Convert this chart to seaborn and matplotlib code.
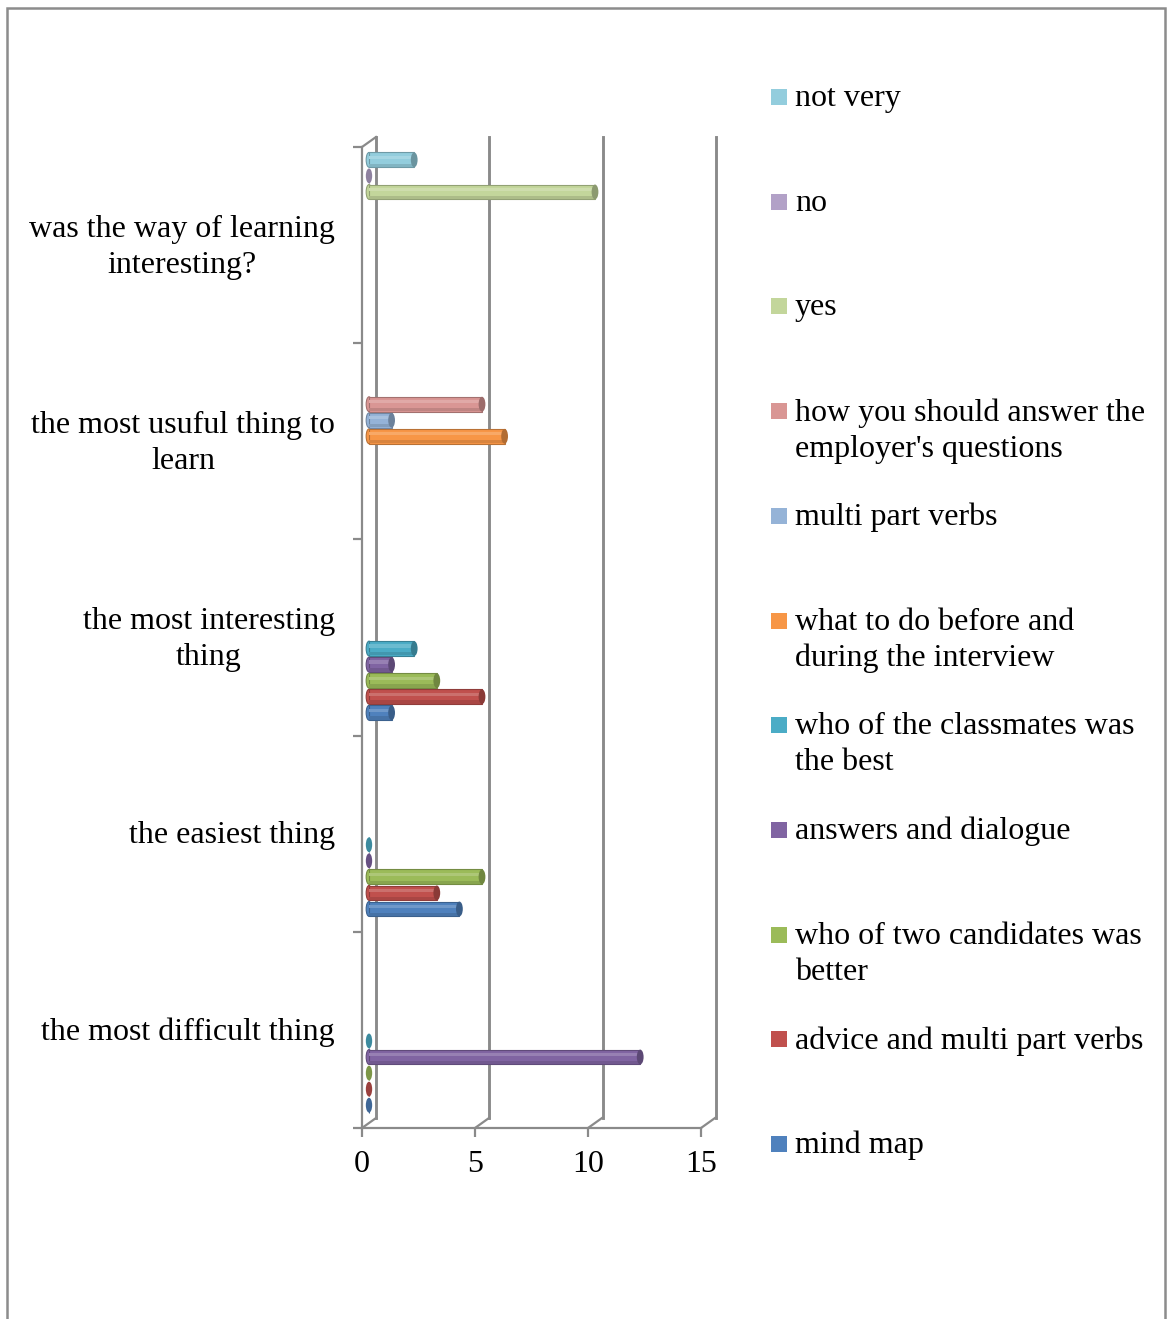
import numpy as np
import pandas as pd
import matplotlib
matplotlib.use("Agg")
import matplotlib.pyplot as plt
import seaborn as sns
from matplotlib.patches import Ellipse, Rectangle
from matplotlib.lines import Line2D
import matplotlib.transforms as mtransforms
import matplotlib.colors as mcolors

# ---------------- data ----------------
categories = [
    "was the way of learning\ninteresting?",
    "the most usuful thing to\nlearn",
    "the most interesting\nthing",
    "the easiest thing",
    "the most difficult thing",
]
series = [
    "mind map",
    "advice and multi part verbs",
    "who of two candidates was\nbetter",
    "answers and dialogue",
    "who of the classmates was\nthe best",
    "what to do before and\nduring the interview",
    "multi part verbs",
    "how you should answer the\nemployer's questions",
    "yes",
    "no",
    "not very",
]
colors = ["#4F81BD", "#C0504D", "#9BBB59", "#8064A2", "#4BACC6", "#F79646",
          "#95B3D7", "#D99694", "#C3D69B", "#B2A1C7", "#93CDDD"]

# values per series, in category order (None = no bar)
values = {
    "mind map":                          [None, None, 1, 4, 0],
    "advice and multi part verbs":       [None, None, 5, 3, 0],
    "who of two candidates was\nbetter": [None, None, 3, 5, 0],
    "answers and dialogue":              [None, None, 1, 0, 12],
    "who of the classmates was\nthe best": [None, None, 2, 0, 0],
    "what to do before and\nduring the interview": [None, 6, None, None, None],
    "multi part verbs":                  [None, 1, None, None, None],
    "how you should answer the\nemployer's questions": [None, 5, None, None, None],
    "yes":                               [10, None, None, None, None],
    "no":                                [0, None, None, None, None],
    "not very":                          [2, None, None, None, None],
}
x_ticks = [0, 5, 10, 15]

rows = []
for s in series:
    for c, v in zip(categories, values[s]):
        if v is not None:
            rows.append({"category": c, "series": s, "value": v})
df = pd.DataFrame(rows)

# ---------------- figure ----------------
W, H = 1174, 1319
fig = plt.figure(figsize=(W / 100, H / 100), dpi=100)
fig.patch.set_facecolor("white")

def fx(px):
    return px / W

def fy(py):
    return 1 - py / H

FONT = "Liberation Serif"
FS = 23
LSP = 1.32
GRAY = "#8a8a8a"
LW = 1.6

def box(l, t, r, b):
    return [fx(l), fy(b), (r - l) / W, (b - t) / H]

# back wall (gridlines)
ax_back = fig.add_axes(box(376, 137, 716, 1118))
ax_back.set_xlim(0, 15)
ax_back.set_ylim(0, 1)
for v in x_ticks:
    ax_back.axvline(v, color=GRAY, lw=LW * 1.3, clip_on=False)
ax_back.axis("off")

# front axis (ticks and frame)
ax_front = fig.add_axes(box(362, 147, 701, 1128))
ax_front.set_facecolor("none")
ax_front.set_xlim(0, 15)
ax_front.set_ylim(len(categories) - 0.5, -0.5)
for sp in ["top", "right"]:
    ax_front.spines[sp].set_visible(False)
for sp in ["left", "bottom"]:
    ax_front.spines[sp].set_color(GRAY)
    ax_front.spines[sp].set_linewidth(LW)
ax_front.set_xticks(x_ticks)
ax_front.set_xticklabels([str(v) for v in x_ticks], fontfamily=FONT, fontsize=FS)
ax_front.set_yticks(np.arange(-0.5, len(categories), 1.0))
ax_front.set_yticklabels([])
ax_front.tick_params(axis="both", color=GRAY, width=LW, length=6.5, direction="out")
ax_front.tick_params(axis="x", pad=9)

# category labels
trans = mtransforms.blended_transform_factory(fig.transFigure, ax_front.transData)
for i, c in enumerate(categories):
    ax_front.text(fx(335), i + 0.01, c, transform=trans, ha="right", va="center",
                  multialignment="center", fontfamily=FONT, fontsize=FS,
                  linespacing=LSP)

# perspective connectors (floor / corner)
for k in range(4):
    x0 = 362 + 113 * k
    fig.add_artist(Line2D([fx(x0), fx(x0 + 14)], [fy(1128), fy(1118)],
                          color=GRAY, lw=LW, transform=fig.transFigure))
fig.add_artist(Line2D([fx(362), fx(376)], [fy(147), fy(137)],
                      color=GRAY, lw=LW, transform=fig.transFigure))

# bars axis (mid-depth)
ax_bar = fig.add_axes(box(369, 142, 708, 1123))
ax_bar.set_facecolor("none")
palette = dict(zip(series, colors))
sns.barplot(data=df, y="category", x="value", hue="series",
            order=categories, hue_order=series[::-1], palette=palette,
            orient="h", width=0.9, gap=0.08, dodge=True, errorbar=None,
            saturation=1, legend=False, ax=ax_bar, linewidth=0.8)
ax_bar.set_xlim(0, 15)
ax_bar.set_ylim(len(categories) - 0.5, -0.5)
ax_bar.axis("off")

def darker(col, f=0.72):
    r, g, b = mcolors.to_rgb(col)
    return (r * f, g * f, b * f)

def lighter(col, f=0.35):
    r, g, b = mcolors.to_rgb(col)
    return (r + (1 - r) * f, g + (1 - g) * f, b + (1 - b) * f)

for p in list(ax_bar.patches):
    w = p.get_width()
    if w is None or not np.isfinite(w):
        continue
    fc = p.get_facecolor()
    x0, y0, h = p.get_x(), p.get_y(), p.get_height()
    p.set_edgecolor(darker(fc, 0.75))
    p.set_clip_on(False)
    if w > 0:
        # highlight stripe + shadow for a cylinder look
        ax_bar.add_patch(Rectangle((x0, y0 + h * 0.22), w, h * 0.22,
                                   facecolor=lighter(fc, 0.18), edgecolor="none",
                                   zorder=p.get_zorder() + 0.1, clip_on=False))
        ax_bar.add_patch(Rectangle((x0, y0 + h * 0.75), w, h * 0.22,
                                   facecolor=darker(fc, 0.88), edgecolor="none",
                                   zorder=p.get_zorder() + 0.1, clip_on=False))
        # rounded left end
        ax_bar.add_patch(Ellipse((x0, y0 + h / 2), 0.25, h,
                                 facecolor=fc, edgecolor=darker(fc, 0.75), lw=0.8,
                                 zorder=p.get_zorder() - 0.1, clip_on=False))
        ax_bar.add_patch(Ellipse((x0 + w, y0 + h / 2), 0.3, h,
                                 facecolor=darker(fc, 0.72), edgecolor="none",
                                 zorder=p.get_zorder() + 0.2, clip_on=False))
    else:
        # zero value: only the cylinder cap is visible
        ax_bar.add_patch(Ellipse((x0, y0 + h / 2), 0.28, h,
                                 facecolor=darker(fc, 0.8), edgecolor="none",
                                 zorder=p.get_zorder() + 0.2, clip_on=False))

# legend (manual, Excel style)
leg_y0, leg_step = 97, 104.7
for i, s in enumerate(series[::-1]):
    yc = leg_y0 + i * leg_step
    fig.add_artist(Rectangle((fx(771), fy(yc + 8)), 16 / W, 16 / H,
                             transform=fig.transFigure, facecolor=palette[s],
                             edgecolor="none"))
    fig.text(fx(795), fy(yc - 13), s, ha="left", va="top",
             fontfamily=FONT, fontsize=FS, linespacing=LSP)

# outer border
fig.add_artist(Rectangle((fx(7), fy(1340)), (1165 - 7) / W, (1340 - 8) / H,
                         transform=fig.transFigure, facecolor="none",
                         edgecolor="#8c8c8c", lw=1.8, clip_on=False))

fig.savefig("out.png", dpi=100, facecolor="white")
